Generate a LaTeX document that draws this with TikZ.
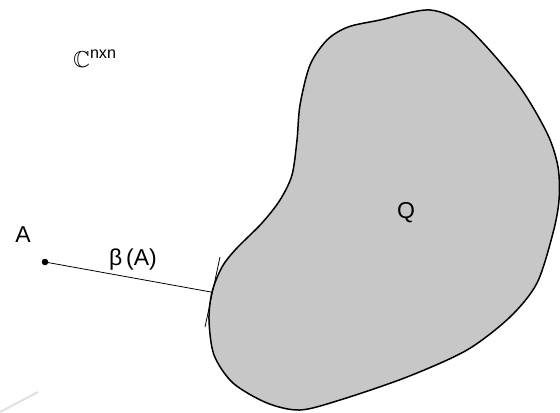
\documentclass[tikz,border=0pt]{standalone}
\usepackage{amssymb,amsmath}
\usepackage{fontspec}
\setmainfont{Liberation Sans}
\usepackage{tikz}

\begin{document}
\begin{tikzpicture}[x=0.5pt,y=-0.5pt,
        region/.style={draw=black, line width=0.75pt, fill=black!22},
        thin line/.style={draw=black, line width=0.4pt},
        lbl/.style={text=black, inner sep=0pt, font=\fontsize{11.5}{14}\selectfont}]
            \useasboundingbox (0,0) rectangle (560,412);

            % faint scan trace
            \draw[black!12, line width=1pt] (0,412) -- (38,392);

            \draw[region] plot[smooth cycle, tension=0.5] coordinates {
                (380,20) (430,10) (467,27) (517,83) (547,133) (558,167) (559,200)
                (553,233) (537,283) (510,317) (467,350) (407,377) (340,400)
                (300,410) (267,403) (233,383) (214,355) (209,320) (212,292)
                (222,267) (236,249) (262,223) (280,200) (292,175) (297,140)
                (300,105) (310,65) (327,40) (348,27)};

            \coordinate (A) at (45,262);
            \coordinate (P) at (211,292);
            \coordinate (t1) at (220,257);
            \coordinate (t2) at (205,327);

            \draw[thin line] (A) -- (P);
            \draw[thin line] (t1) -- (t2);
            \filldraw [black] (A) circle (1.4pt);

            \path (73,67)
            node[lbl,anchor=base west] (labC) {$\mathbb{C}^{\text{nxn}}$};
            \path (23,242)
            node[lbl,anchor=base] (labA) {A};
            \path (133,265)
            node[lbl,anchor=base] (labBeta) {β\,(A)};
            \path (406,218)
            node[lbl,anchor=base] (labQ) {Q};

        \end{tikzpicture}
\end{document}
